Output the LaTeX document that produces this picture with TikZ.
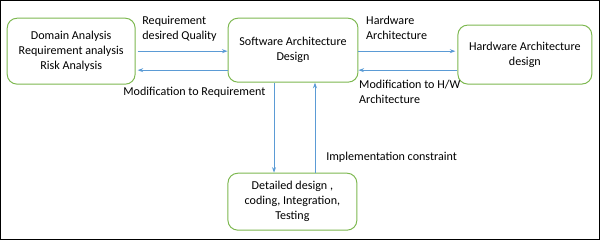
\documentclass[tikz,border=0pt]{standalone}
\usepackage{fontspec}
\setmainfont{Carlito}
\usetikzlibrary{arrows.meta,positioning,calc}
\definecolor{boxc}{HTML}{7DB850}
\definecolor{arrc}{HTML}{5B9BD5}
\tikzset{
  >={Stealth[length=1.4mm,width=1mm]},
  blk/.style={draw=boxc,line width=0.7pt,rounded corners=7pt,fill=white,align=center,font=\fontsize{8.6}{10.6}\selectfont,inner sep=1pt},
  flow/.style={->,draw=arrc,line width=0.6pt},
  lbl/.style={font=\fontsize{8.6}{10.6}\selectfont,align=left,inner sep=0pt},
}

\begin{document}
\begin{tikzpicture}
  \draw[line width=1pt] (0.0125,-0.0125) rectangle (14.9875,-5.9875);
  \useasboundingbox (0,0) rectangle (15,-6);
  % boxes
  \node[blk,minimum width=3.2cm,minimum height=1.65cm] (dom) at (1.775,-1.275)
    {Domain Analysis\\Requirement analysis\\Risk Analysis};
  \node[blk,minimum width=3.25cm,minimum height=1.6cm] (sw) at (7.325,-1.25)
    {Software Architecture\\Design};
  \node[blk,minimum width=3.35cm,minimum height=1.475cm] (hw) at (13.125,-1.36)
    {Hardware Architecture\\design};
  \node[blk,minimum width=3.225cm,minimum height=1.425cm] (det) at (7.31,-5.04)
    {Detailed design ,\\coding, Integration,\\Testing};
  % connectors
  \coordinate (a1) at ($(dom.east)+(0.05,0)$);
  \draw[flow] (a1) -- (a1 -| sw.west);
  \coordinate (a2) at ($(sw.west)+(0,-0.5)$);
  \draw[flow] (a2) -- ($(a2 -| dom.east)+(0.05,0)$);
  \coordinate (b1) at ($(sw.east)+(0,-0.025)$);
  \draw[flow] (b1) -- ($(b1 -| hw.west)+(-0.05,0)$);
  \coordinate (b2) at ($(hw.west)+(0,-0.39)$);
  \draw[flow] (b2) -- (b2 -| sw.east);
  \coordinate (c1) at ($(sw.south)+(-0.475,0)$);
  \draw[flow] (c1) -- (c1 |- det.north);
  \coordinate (c2) at ($(det.north)+(0.565,0)$);
  \draw[flow] (c2) -- (c2 |- sw.south);
  % labels
  \node[lbl,anchor=north west] (l1) at (3.55,-0.4) {Requirement\\desired Quality};
  \node[lbl,anchor=west] (l2) at (3.075,-2.3) {Modification to Requirement};
  \node[lbl,anchor=north west] (l3) at (9.15,-0.4) {Hardware\\Architecture};
  \node[lbl,anchor=north west] (l4) at (8.975,-2.0) {Modification to H/W\\Architecture};
  \node[lbl,anchor=west] (l5) at (8.15,-3.92) {Implementation constraint};
\end{tikzpicture}
\end{document}
